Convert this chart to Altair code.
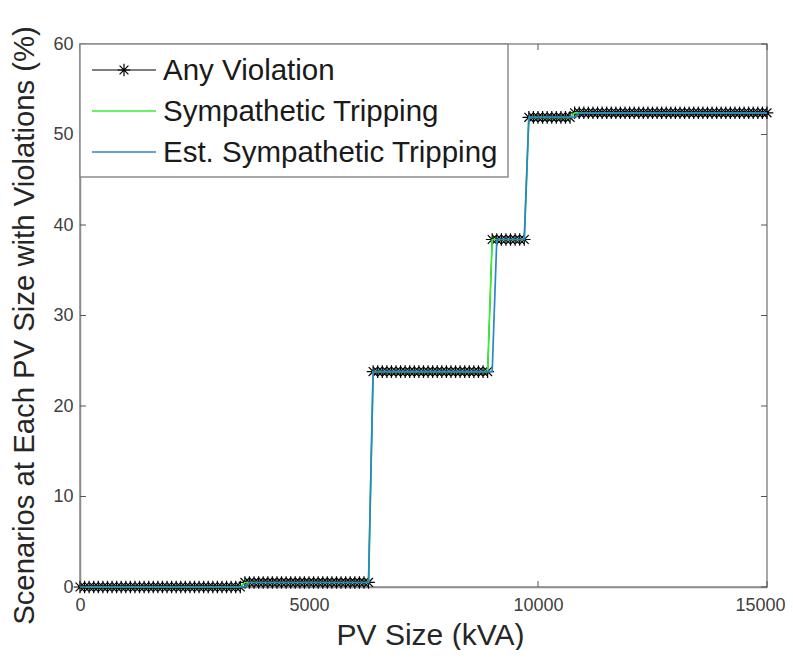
import altair as alt
import pandas as pd

# PV size grid (kVA)
pv_size = list(range(0, 15001, 100))

any_violation = [
    0, 0, 0, 0, 0, 0, 0, 0, 0, 0,
    0, 0, 0, 0, 0, 0, 0, 0, 0, 0,
    0, 0, 0, 0, 0, 0, 0, 0, 0, 0,
    0, 0, 0, 0, 0, 0, 0.5, 0.5, 0.5, 0.5,
    0.5, 0.5, 0.5, 0.5, 0.5, 0.5, 0.5, 0.5, 0.5, 0.5,
    0.5, 0.5, 0.5, 0.5, 0.5, 0.5, 0.5, 0.5, 0.5, 0.5,
    0.5, 0.5, 0.5, 0.5, 23.8, 23.8, 23.8, 23.8, 23.8, 23.8,
    23.8, 23.8, 23.8, 23.8, 23.8, 23.8, 23.8, 23.8, 23.8, 23.8,
    23.8, 23.8, 23.8, 23.8, 23.8, 23.8, 23.8, 23.8, 23.8, 23.8,
    38.4, 38.4, 38.4, 38.4, 38.4, 38.4, 38.4, 38.4, 51.9, 51.9,
    51.9, 51.9, 51.9, 51.9, 51.9, 51.9, 51.9, 51.9, 52.4, 52.4,
    52.4, 52.4, 52.4, 52.4, 52.4, 52.4, 52.4, 52.4, 52.4, 52.4,
    52.4, 52.4, 52.4, 52.4, 52.4, 52.4, 52.4, 52.4, 52.4, 52.4,
    52.4, 52.4, 52.4, 52.4, 52.4, 52.4, 52.4, 52.4, 52.4, 52.4,
    52.4, 52.4, 52.4, 52.4, 52.4, 52.4, 52.4, 52.4, 52.4, 52.4,
    52.4,
]

sympathetic_tripping = [
    0, 0, 0, 0, 0, 0, 0, 0, 0, 0,
    0, 0, 0, 0, 0, 0, 0, 0, 0, 0,
    0, 0, 0, 0, 0, 0, 0, 0, 0, 0,
    0, 0, 0, 0, 0, 0, 0.5, 0.5, 0.5, 0.5,
    0.5, 0.5, 0.5, 0.5, 0.5, 0.5, 0.5, 0.5, 0.5, 0.5,
    0.5, 0.5, 0.5, 0.5, 0.5, 0.5, 0.5, 0.5, 0.5, 0.5,
    0.5, 0.5, 0.5, 0.5, 23.8, 23.8, 23.8, 23.8, 23.8, 23.8,
    23.8, 23.8, 23.8, 23.8, 23.8, 23.8, 23.8, 23.8, 23.8, 23.8,
    23.8, 23.8, 23.8, 23.8, 23.8, 23.8, 23.8, 23.8, 23.8, 23.8,
    38.4, 38.4, 38.4, 38.4, 38.4, 38.4, 38.4, 38.4, 51.9, 51.9,
    51.9, 51.9, 51.9, 51.9, 51.9, 51.9, 51.9, 51.9, 52.4, 52.4,
    52.4, 52.4, 52.4, 52.4, 52.4, 52.4, 52.4, 52.4, 52.4, 52.4,
    52.4, 52.4, 52.4, 52.4, 52.4, 52.4, 52.4, 52.4, 52.4, 52.4,
    52.4, 52.4, 52.4, 52.4, 52.4, 52.4, 52.4, 52.4, 52.4, 52.4,
    52.4, 52.4, 52.4, 52.4, 52.4, 52.4, 52.4, 52.4, 52.4, 52.4,
    52.4,
]

est_sympathetic_tripping = [
    0, 0, 0, 0, 0, 0, 0, 0, 0, 0,
    0, 0, 0, 0, 0, 0, 0, 0, 0, 0,
    0, 0, 0, 0, 0, 0, 0, 0, 0, 0,
    0, 0, 0, 0, 0, 0, 0, 0.5, 0.5, 0.5,
    0.5, 0.5, 0.5, 0.5, 0.5, 0.5, 0.5, 0.5, 0.5, 0.5,
    0.5, 0.5, 0.5, 0.5, 0.5, 0.5, 0.5, 0.5, 0.5, 0.5,
    0.5, 0.5, 0.5, 0.5, 23.8, 23.8, 23.8, 23.8, 23.8, 23.8,
    23.8, 23.8, 23.8, 23.8, 23.8, 23.8, 23.8, 23.8, 23.8, 23.8,
    23.8, 23.8, 23.8, 23.8, 23.8, 23.8, 23.8, 23.8, 23.8, 23.8,
    23.8, 38.4, 38.4, 38.4, 38.4, 38.4, 38.4, 38.4, 51.9, 51.9,
    51.9, 51.9, 51.9, 51.9, 51.9, 51.9, 51.9, 51.9, 51.9, 52.4,
    52.4, 52.4, 52.4, 52.4, 52.4, 52.4, 52.4, 52.4, 52.4, 52.4,
    52.4, 52.4, 52.4, 52.4, 52.4, 52.4, 52.4, 52.4, 52.4, 52.4,
    52.4, 52.4, 52.4, 52.4, 52.4, 52.4, 52.4, 52.4, 52.4, 52.4,
    52.4, 52.4, 52.4, 52.4, 52.4, 52.4, 52.4, 52.4, 52.4, 52.4,
    52.4,
]

x_ticks = [0, 5000, 10000, 15000]
y_ticks = [0, 10, 20, 30, 40, 50, 60]

legend_labels = ["Any Violation", "Sympathetic Tripping", "Est. Sympathetic Tripping"]
legend_colors = ["#000000", "#33f033", "#2a86c8"]

df = pd.DataFrame({
    "pv": pv_size,
    "any": any_violation,
    "symp": sympathetic_tripping,
    "est": est_sympathetic_tripping,
})
xt = pd.DataFrame({"pv": x_ticks})
yt = pd.DataFrame({"any": y_ticks})
one = pd.DataFrame({"k": [0]})

W, H = 687, 543
FONT = "Liberation Sans"
AXC = "#8c8c8c"
TXT = "#262626"
STAR = "M-1,0L1,0M0,-1L0,1M-0.7,-0.7L0.7,0.7M-0.7,0.7L0.7,-0.7"

xs = alt.Scale(domain=[0, 15000], nice=False, zero=False)
ys = alt.Scale(domain=[0, 60], nice=False, zero=False)

X_AX = alt.Axis(
    values=x_ticks, format="d", title="PV Size (kVA)", tickSize=0,
    labelFontSize=18, labelColor="#404040", labelFont=FONT, labelPadding=9,
    labelFlush=False, labelOffset=alt.expr("datum.value == 15000 ? -7 : 0"),
    domainColor=AXC, domainWidth=1.5, grid=False,
    titleFont=FONT, titleFontSize=30, titleFontWeight="normal", titleColor=TXT,
    titleX=350, titleY=48, titleBaseline="middle", titleAlign="center")
Y_AX = alt.Axis(
    values=y_ticks, format="d", title="Scenarios at Each PV Size with Violations (%)",
    tickSize=0, labelFontSize=18, labelColor="#404040", labelFont=FONT, labelPadding=7,
    labelFlush=False,
    domainColor=AXC, domainWidth=1.5, grid=False,
    titleFont=FONT, titleFontSize=29.3, titleFontWeight="normal", titleColor=TXT,
    titleX=-56, titleY=281, titleAngle=270, titleBaseline="middle", titleAlign="center")


def X(field="pv"):
    return alt.X(f"{field}:Q", scale=xs, axis=X_AX, title="PV Size (kVA)")


def Y(field):
    return alt.Y(f"{field}:Q", scale=ys, axis=Y_AX,
                 title="Scenarios at Each PV Size with Violations (%)")


base = alt.Chart(df)

black_line = base.mark_line(color="black", strokeWidth=1).encode(x=X(), y=Y("any"))

stars = base.mark_point(shape=STAR, filled=False, color="black", size=160,
                        strokeWidth=1.2, opacity=1).encode(x=X(), y=Y("any"))

green_line = base.mark_line(color=legend_colors[1], strokeWidth=1.7).encode(
    x=X(), y=Y("symp"))

blue_line = base.mark_line(color=legend_colors[2], strokeWidth=1.7).encode(
    x=X(), y=Y("est"))

# inward tick marks on all four sides
tick_c = "#555555"
xt_bottom = alt.Chart(xt).mark_rule(color=tick_c, strokeWidth=1).encode(
    x=X(), y=alt.value(H), y2=alt.value(H - 6))
xt_top = alt.Chart(xt).mark_rule(color=tick_c, strokeWidth=1).encode(
    x=X(), y=alt.value(0), y2=alt.value(6))
yt_left = alt.Chart(yt).mark_rule(color=tick_c, strokeWidth=1).encode(
    y=Y("any"), x=alt.value(0), x2=alt.value(6))
yt_right = alt.Chart(yt).mark_rule(color=tick_c, strokeWidth=1).encode(
    y=Y("any"), x=alt.value(W), x2=alt.value(W - 6))

# legend box
leg_box = alt.Chart(one).mark_rect(fill="white", stroke=AXC, strokeWidth=1.5).encode(
    x=alt.value(0), x2=alt.value(428), y=alt.value(0), y2=alt.value(133))

leg_layers = []
row_y = [26, 67, 108]
for lab, col, yy in zip(legend_labels, legend_colors, row_y):
    leg_layers.append(alt.Chart(one).mark_rule(
        color=col, strokeWidth=1.7 if col != "#000000" else 1).encode(
        x=alt.value(12), x2=alt.value(76), y=alt.value(yy)))
    leg_layers.append(alt.Chart(one).mark_text(
        align="left", baseline="middle", font=FONT, fontSize=29.5, color="#1a1a1a").encode(
        x=alt.value(83), y=alt.value(yy + 1), text=alt.value(lab)))
leg_star = alt.Chart(one).mark_point(shape=STAR, filled=False, color="black", size=160,
                                     strokeWidth=1.2, opacity=1).encode(
    x=alt.value(44), y=alt.value(row_y[0]))

chart = alt.layer(
    black_line, stars, green_line, blue_line,
    xt_bottom, xt_top, yt_left, yt_right,
    leg_box, *leg_layers, leg_star,
).properties(
    width=W, height=H,
    autosize=alt.AutoSizeParams(type="none"),
    padding={"left": 72, "top": 36, "right": 18, "bottom": 63},
    background="white",
).configure_view(stroke=AXC, strokeWidth=1.5)

chart.save("out.html", embed_options={"renderer": "svg", "actions": False})
